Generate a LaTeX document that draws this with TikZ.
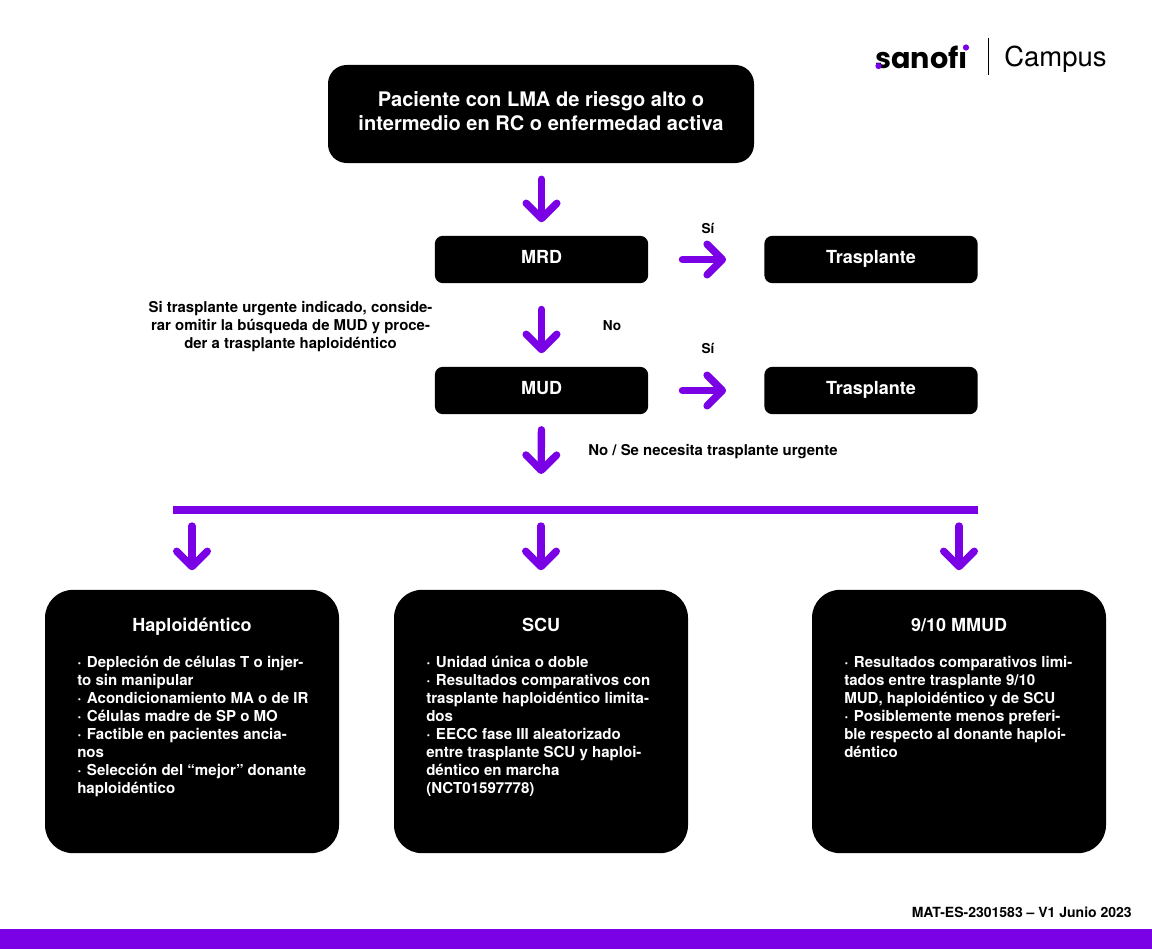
\documentclass[tikz,border=0pt]{standalone}
\usepackage{fontspec}
\setmainfont{TeX Gyre Heros}
\newfontfamily\logofont{Poppins}
\usetikzlibrary{arrows.meta}
\definecolor{sanpurple}{HTML}{7A00E6}
\newcommand{\bul}{·\kern1pt\ }
\tikzset{
  x=0.75pt,y=-0.75pt,
  blackbox/.style={fill=black,draw=none,text=white,font=\fontsize{13.5pt}{15pt}\selectfont\bfseries,align=center,inner sep=0pt},
  smallbox/.style={blackbox,minimum width=160pt,minimum height=35.5pt,rounded corners=6pt,text height=10pt,text depth=3.5pt},
  bigbox/.style={fill=black,draw=none,minimum width=220.5pt,minimum height=197.5pt,rounded corners=21pt,inner sep=0pt},
  boxtitle/.style={text=white,font=\fontsize{13.5pt}{15pt}\selectfont\bfseries,inner sep=0pt,anchor=base},
  boxbody/.style={text=white,font=\fontsize{11.3pt}{13.5pt}\selectfont\bfseries,align=left,anchor=north west,inner sep=0pt},
  plain/.style={font=\fontsize{10.2pt}{13.5pt}\selectfont\bfseries,inner sep=0pt,text=black},
  flow/.style={draw=sanpurple,line width=5.5pt,line cap=round,-{Straight Barb[round,length=11.5pt,width=23pt,line width=5.5pt]}},
}
\begin{document}
\begin{tikzpicture}
\useasboundingbox (0,0) rectangle (1152,949);
\fill[sanpurple] (0,929) rectangle (1152,949);

% logo
\node[anchor=base west,inner sep=0pt,font=\logofont\bfseries\fontsize{21.5pt}{20pt}\selectfont] (sanofi) at (875,68.5) {sanof\char"0131};
\fill[sanpurple] (878.5,66) circle (3.1);
\fill[sanpurple] (966,47.5) circle (3.1);
\coordinate (logotop) at (988,38);
\coordinate (logobot) at (988,75);
\draw[line width=0.7pt] (logotop) -- (logobot);
\node[anchor=base west,inner sep=0pt,font=\fontsize{20.6pt}{20pt}\selectfont] (campus) at (1004,67) {Campus};

% main boxes
\node[blackbox,minimum width=319.5pt,minimum height=73.5pt,rounded corners=14pt,font=\fontsize{15.05pt}{18pt}\selectfont\bfseries] (top) at (541,114)
  {\raisebox{1pt}{\begin{tabular}{@{}c@{}}Paciente con LMA de riesgo alto o\\intermedio en RC o enfermedad activa\end{tabular}}};
\node[smallbox] (mrd) at (541.5,259.5) {MRD};
\node[smallbox] (tr1) at (871,259.5) {Trasplante};
\node[smallbox] (mud) at (541.5,390.5) {MUD};
\node[smallbox] (tr2) at (871,390.5) {Trasplante};

% horizontal bar
\coordinate (barL) at (173,510);
\coordinate (barR) at (978,510);
\coordinate (barA) at (192,510);
\coordinate (barB) at (541,510);
\coordinate (barC) at (959,510);
\draw[sanpurple,line width=5.3pt] (barL) -- (barR);

% bottom boxes
\node[bigbox] (haplo) at (192,721.5) {};
\node[bigbox] (scu) at (541,721.5) {};
\node[bigbox] (mmud) at (959,721.5) {};

\node[boxtitle] (t1) at (192,631.5) {Haploidéntico};
\node[boxtitle] (t2) at (541,631.5) {SCU};
\node[boxtitle] (t3) at (959,631.5) {9/10 MMUD};

\node[boxbody] (b1) at (77,655.5) {\bul Depleción de células T o injer-\\to sin manipular\\\bul Acondicionamiento MA o de IR\\\bul Células madre de SP o MO\\\bul Factible en pacientes ancia-\\nos\\\bul Selección del “mejor” donante\\haploidéntico};
\node[boxbody] (b2) at (426,655.5) {\bul Unidad única o doble\\\bul Resultados comparativos con\\trasplante haploidéntico limita-\\dos\\\bul EECC fase III aleatorizado\\entre trasplante SCU y haploi-\\déntico en marcha\\(NCT01597778)};
\node[boxbody] (b3) at (844,655.5) {\bul Resultados comparativos limi-\\tados entre trasplante 9/10\\MUD, haploidéntico y de SCU\\\bul Posiblemente menos preferi-\\ble respecto al donante haploi-\\déntico};

% connectors
\draw[flow,shorten <=12pt,shorten >=10pt] (top.south -| mrd) -- (mrd.north);
\draw[flow,shorten <=19.5pt,shorten >=10pt] (mrd.south) -- (mud.north);
\draw[flow,shorten <=11.5pt,shorten >=27pt] (mud.south) -- (barB);
\draw[flow,shorten <=25.5pt,shorten >=28.5pt] (mrd.east) -- (tr1.west);
\draw[flow,shorten <=25.5pt,shorten >=28.5pt] (mud.east) -- (tr2.west);
\draw[flow,shorten <=12pt,shorten >=14.5pt] (barA) -- (haplo.north);
\draw[flow,shorten <=12pt,shorten >=14.5pt] (barB) -- (scu.north);
\draw[flow,shorten <=12pt,shorten >=14.5pt] (barC) -- (mmud.north);

% labels
\node[plain] (si1) at (708,228) {Sí};
\node[plain] (si2) at (708,348) {Sí};
\node[plain] (no1) at (612,326) {No};
\node[plain,anchor=west,font=\fontsize{11.2pt}{13.5pt}\selectfont\bfseries] (no2) at (588,451.5) {No / Se necesita trasplante urgente};
\node[plain,align=center,font=\fontsize{11.2pt}{13.5pt}\selectfont\bfseries] (note) at (290.5,327) {Si trasplante urgente indicado, conside-\\rar omitir la búsqueda de MUD y proce-\\der a trasplante haploidéntico};
\node[plain,anchor=east,font=\fontsize{10.5pt}{13.5pt}\selectfont\bfseries] (code) at (1132,912) {MAT-ES-2301583 – V1 Junio 2023};
\end{tikzpicture}
\end{document}
